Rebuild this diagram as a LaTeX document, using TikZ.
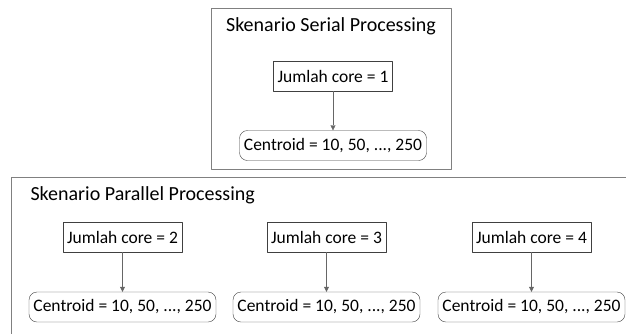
\documentclass[tikz,border=0pt]{standalone}
\usepackage{fontspec}
\setmainfont{Carlito}
\usepackage{tikz}
\usetikzlibrary{arrows.meta, positioning}

\begin{document}
\begin{tikzpicture}[x=1pt, y=-1pt, line join=round,
    core/.style={draw=black!75, fill=white, minimum width=119pt, minimum height=30pt,
      inner sep=1pt, font=\fontsize{17.5}{20}\selectfont},
    cent/.style={draw=black!75, fill=white, rounded corners=8pt, minimum width=187pt,
      minimum height=30pt, inner sep=1pt, font=\fontsize{17.5}{20}\selectfont},
    flow/.style={draw=black!60, -{Triangle[length=5pt, width=5pt]}},
    frame/.style={draw=black!50, line width=0.9pt}]

    % page size of the original picture
    \useasboundingbox (0,0) rectangle (626,333);
    \clip (0,0) rectangle (626,333);

    % Serial scenario
    \draw[frame] (211,8) rectangle (451,169);
    \node[font=\fontsize{20}{24}\selectfont] (sertitle) at (331,26) {Skenario Serial Processing};
    \node[core] (c1) at (333,76) {Jumlah core = 1};
    \node[cent] (k1) at (333,145.5) {Centroid = 10, 50, ..., 250};
    \draw[flow] (c1) -- (k1);

    % Parallel scenario (box runs off the page right and below)
    \draw[frame] (11,177) rectangle (640,345);
    \node[font=\fontsize{20}{24}\selectfont, anchor=west] (partitle) at (27,195) {Skenario Parallel Processing};

    \node[core] (c2) at (122.5,237) {Jumlah core = 2};
    \node[core] (c3) at (326.5,237) {Jumlah core = 3};
    \node[core] (c4) at (531.5,237) {Jumlah core = 4};
    \node[cent] (k2) at (122.5,307) {Centroid = 10, 50, ..., 250};
    \node[cent] (k3) at (326.5,307) {Centroid = 10, 50, ..., 250};
    \node[cent] (k4) at (531.5,307) {Centroid = 10, 50, ..., 250};

    \foreach \i in {2,3,4}
        \draw[flow] (c\i) -- (k\i);

\end{tikzpicture}
\end{document}
